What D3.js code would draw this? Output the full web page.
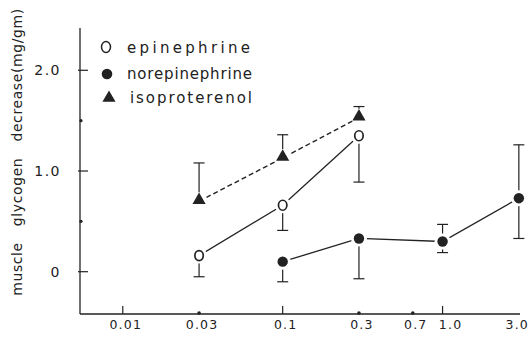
<!DOCTYPE html>
<html>
<head>
<meta charset="utf-8">
<script src="https://cdn.jsdelivr.net/npm/d3@7"></script>
<style>
    body { margin: 0; background: #fff; }
    text { font-family: "DejaVu Sans", sans-serif; fill: #222; }
</style>
</head>
<body>
<div id="chart"></div>
<script>
    // doses (log axis) and tick labels
    var tickValues = [0.01, 0.03, 0.1, 0.3, 0.7, 1.0, 3.0];
    var tickLabels = ["0.01", "0.03", "0.1", "0.3", "0.7", "1.0", "3.0"];
    var yTicks = [0, 1.0, 2.0];
    var yTickLabels = ["0", "1.0", "2.0"];

    // epinephrine
    var epiDose = [0.03, 0.1, 0.3];
    var epiMean = [0.16, 0.66, 1.35];
    var epiLow = [-0.05, 0.41, 0.89];
    var epiHigh = [null, null, null];

    // norepinephrine
    var norDose = [0.1, 0.3, 1.0, 3.0];
    var norMean = [0.10, 0.33, 0.30, 0.73];
    var norLow = [-0.10, -0.07, 0.19, 0.33];
    var norHigh = [null, null, 0.47, 1.26];

    // isoproterenol
    var isoDose = [0.03, 0.1, 0.3];
    var isoMean = [0.70, 1.13, 1.53];
    var isoLow = [null, null, null];
    var isoHigh = [1.08, 1.36, 1.64];

    var legendNames = ["epinephrine", "norepinephrine", "isoproterenol"];

    var w = 530;
    var h = 341;

    var svg = d3.select("#chart").append("svg")
        .attr("width", w)
        .attr("height", h);

    var xScale = d3.scaleLog().domain([0.0054, 3.05]).range([80, 520]);
    var yScale = d3.scaleLinear().domain([-0.42, 2.42]).range([314, 28]);

    var ink = "#222";

    // axes lines
    svg.append("line")
        .attr("x1", 80).attr("x2", 80)
        .attr("y1", yScale(2.42)).attr("y2", yScale(-0.42))
        .attr("stroke", ink).attr("stroke-width", 1.3);
    svg.append("line")
        .attr("x1", 80).attr("x2", xScale(3.05))
        .attr("y1", 314).attr("y2", 314)
        .attr("stroke", ink).attr("stroke-width", 1.3);

    // y ticks (inward)
    yTicks.forEach(function (v, i) {
        svg.append("line")
            .attr("x1", 78).attr("x2", 88)
            .attr("y1", yScale(v)).attr("y2", yScale(v))
            .attr("stroke", ink).attr("stroke-width", 1.2);
        svg.append("text")
            .attr("x", 61)
            .attr("y", yScale(v) + 5)
            .attr("text-anchor", "end")
            .attr("font-size", 14)
            .attr("letter-spacing", 1.5)
            .text(yTickLabels[i]);
    });
    // minor dots on y axis
    [0.5, 1.5].forEach(function (v) {
        svg.append("circle")
            .attr("cx", 81).attr("cy", yScale(v)).attr("r", 1.6)
            .attr("fill", ink);
    });

    // x ticks
    var majorX = [0.01, 0.1, 1.0];
    var labelShift = { "0.7": -5, "1.0": 5 };
    tickValues.forEach(function (v, i) {
        if (majorX.indexOf(v) >= 0) {
            svg.append("line")
                .attr("x1", xScale(v)).attr("x2", xScale(v))
                .attr("y1", 314).attr("y2", 306)
                .attr("stroke", ink).attr("stroke-width", 1.2);
        } else if (v !== 3.0) {
            svg.append("circle")
                .attr("cx", xScale(v) - (v === 0.7 ? 5 : 0)).attr("cy", 313).attr("r", 1.8)
                .attr("fill", ink);
        }
        var lab = svg.append("text")
            .attr("y", 329)
            .attr("font-size", 12.5)
            .attr("letter-spacing", 1.2)
            .text(tickLabels[i]);
        if (v === 3.0) {
            lab.attr("x", w - 1).attr("text-anchor", "end");
        } else {
            lab.attr("x", xScale(v) + 3 + (labelShift[tickLabels[i]] || 0))
                .attr("text-anchor", "middle");
        }
    });

    // y axis title
    svg.append("text")
        .attr("transform", "translate(22,152) rotate(-90)")
        .attr("text-anchor", "middle")
        .attr("font-size", 14)
        .attr("letter-spacing", 0.6)
        .attr("word-spacing", 11)
        .text("muscle glycogen decrease(mg/gm)");

    var line = d3.line()
        .x(function (d) { return xScale(d.x); })
        .y(function (d) { return yScale(d.y); });

    function makeSeries(dose, mean, low, high) {
        return dose.map(function (d, i) {
            return { x: d, y: mean[i], lo: low[i], hi: high[i] };
        });
    }

    var epi = makeSeries(epiDose, epiMean, epiLow, epiHigh);
    var nor = makeSeries(norDose, norMean, norLow, norHigh);
    var iso = makeSeries(isoDose, isoMean, isoLow, isoHigh);

    function errorBars(data) {
        data.forEach(function (d) {
            var x = xScale(d.x);
            [d.lo, d.hi].forEach(function (e) {
                if (e === null) return;
                svg.append("line")
                    .attr("x1", x).attr("x2", x)
                    .attr("y1", yScale(d.y)).attr("y2", yScale(e))
                    .attr("stroke", ink).attr("stroke-width", 1.2);
                svg.append("line")
                    .attr("x1", x - 5.5).attr("x2", x + 5.5)
                    .attr("y1", yScale(e)).attr("y2", yScale(e))
                    .attr("stroke", ink).attr("stroke-width", 1.2);
            });
        });
    }

    errorBars(epi);
    errorBars(nor);
    errorBars(iso);

    svg.append("path").datum(epi)
        .attr("d", line).attr("fill", "none")
        .attr("stroke", ink).attr("stroke-width", 1.3);
    svg.append("path").datum(nor)
        .attr("d", line).attr("fill", "none")
        .attr("stroke", ink).attr("stroke-width", 1.3);
    svg.append("path").datum(iso)
        .attr("d", line).attr("fill", "none")
        .attr("stroke", ink).attr("stroke-width", 1.4)
        .attr("stroke-dasharray", "5,3");

    var tri = d3.symbol().type(d3.symbolTriangle).size(75);

    // white halos so lines stop short of the markers
    svg.selectAll(".halo").data(epi.concat(nor)).join("circle")
        .attr("cx", d => xScale(d.x)).attr("cy", d => yScale(d.y))
        .attr("r", 8).attr("fill", "#fff");
    svg.selectAll(".halot").data(iso).join("circle")
        .attr("cx", d => xScale(d.x)).attr("cy", d => yScale(d.y) - 1)
        .attr("r", 8).attr("fill", "#fff");

    svg.selectAll(".epi").data(epi).join("ellipse")
        .attr("cx", d => xScale(d.x)).attr("cy", d => yScale(d.y))
        .attr("rx", 4.2).attr("ry", 5).attr("fill", "#fff")
        .attr("stroke", ink).attr("stroke-width", 1.7);
    svg.selectAll(".nor").data(nor).join("circle")
        .attr("cx", d => xScale(d.x)).attr("cy", d => yScale(d.y))
        .attr("r", 5.2).attr("fill", ink);
    svg.selectAll(".iso").data(iso).join("path")
        .attr("d", tri)
        .attr("transform", d => "translate(" + xScale(d.x) + "," + (yScale(d.y) - 1) + ")")
        .attr("fill", ink);

    // legend
    var ly = [53, 79, 103];
    var lLen = [123, 125, 122];
    var lX = [127, 127, 130];
    svg.append("ellipse").attr("cx", 106).attr("cy", ly[0] - 6)
        .attr("rx", 4.5).attr("ry", 5.5)
        .attr("fill", "#fff").attr("stroke", ink).attr("stroke-width", 1.5);
    svg.append("circle").attr("cx", 107).attr("cy", ly[1] - 5).attr("r", 5.3)
        .attr("fill", ink);
    svg.append("path").attr("d", tri)
        .attr("transform", "translate(109," + (ly[2] - 5) + ")")
        .attr("fill", ink);
    legendNames.forEach(function (n, i) {
        svg.append("text")
            .attr("x", lX[i])
            .attr("y", ly[i])
            .attr("font-size", 15)
            .attr("textLength", lLen[i])
            .attr("lengthAdjust", "spacing")
            .text(n);
    });
</script>
</body>
</html>
